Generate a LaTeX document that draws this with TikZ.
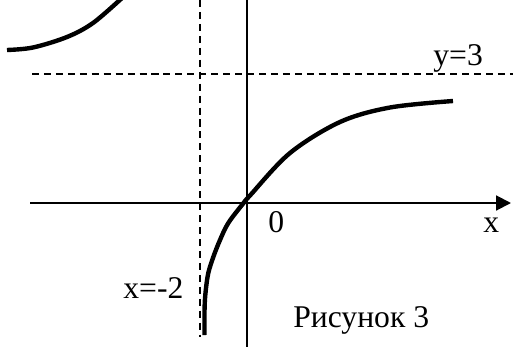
\documentclass[tikz,border=0pt]{standalone}
\usepackage{fontspec}
\setmainfont{Liberation Serif}
\usetikzlibrary{arrows.meta}
\begin{document}
\begin{tikzpicture}[x=0.02cm,y=-0.02cm,
  axisline/.style={line width=1.15pt},
  asym/.style={line width=1.05pt,dash pattern=on 4pt off 2.8pt},
  graphline/.style={line width=2.5pt,line cap=butt},
  lbl/.style={inner sep=0pt,anchor=base west,font=\fontsize{18}{21}\selectfont}]
\useasboundingbox (0,0) rectangle (513,348);
% asymptotes
\coordinate (vaT) at (200,0);
\coordinate (vaB) at (200,337);
\coordinate (haL) at (32,74.3);
\coordinate (haR) at (513,74.3);
\draw[asym] (vaT) -- (vaB);
\draw[asym] (haL) -- (haR);
% axes
\coordinate (xL) at (30,203);
\coordinate (xR) at (511,203);
\coordinate (yT) at (246.7,0);
\coordinate (yB) at (246.7,347);
\draw[axisline,-{Triangle[length=8.5pt,width=8.5pt]}] (xL) -- (xR);
\draw[axisline] (yT) -- (yB);
% graph branches
\draw[graphline] plot[smooth,tension=0.55] coordinates {
  (204.5,335) (204.6,307) (205.8,290) (208.3,273) (213.3,257) (220,240)
  (228.3,223) (243.3,203.3) (250,195.5) (290,153) (340,122) (390,107.5) (453,101)};
\draw[graphline] plot[smooth,tension=0.55] coordinates {
  (7,50) (33,47.5) (67,37) (93,23) (122,-2)};
% labels
\node[lbl] (ly) at (433,65.7) {y=3};
\node[lbl] (l0) at (268,232) {0};
\node[lbl] (lx) at (483,232) {x};
\node[lbl] (lxa) at (123,298) {x=-2};
\node[lbl] (cap) at (293,327.7) {Рисунок 3};
\end{tikzpicture}
\end{document}
